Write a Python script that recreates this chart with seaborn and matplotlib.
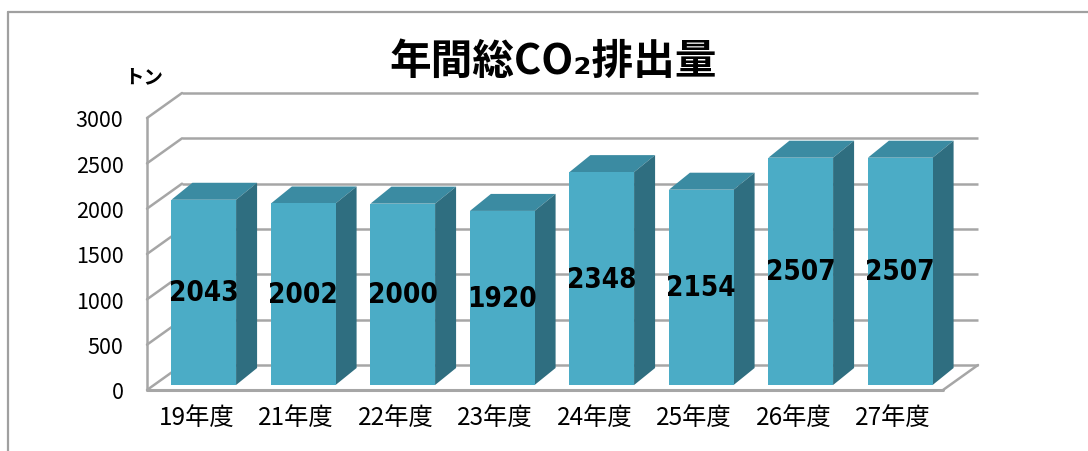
import numpy as np
import pandas as pd
import seaborn as sns
import matplotlib
matplotlib.use("Agg")
import matplotlib.pyplot as plt
from matplotlib.patches import Polygon
from matplotlib.lines import Line2D
from matplotlib import font_manager

# ---- data ----
categories = ["19年度", "21年度", "22年度", "23年度", "24年度", "25年度", "26年度", "27年度"]
values = [2043, 2002, 2000, 1920, 2348, 2154, 2507, 2507]
y_ticks = [0, 500, 1000, 1500, 2000, 2500, 3000]
title_text = "年間総CO₂排出量"
unit_text = "トン"

# ---- style ----
sns.set_theme(style="white")
plt.rcParams["font.family"] = ["Noto Sans CJK JP", "DejaVu Sans"]

installed = {f.name for f in font_manager.fontManager.ttflist}
if "Liberation Sans Narrow" in installed:
    value_font = dict(family=["Liberation Sans Narrow", "DejaVu Sans"], fontsize=24)
else:
    value_font = dict(family=["DejaVu Sans"], fontstretch="condensed", fontsize=20)

FRONT = "#4BACC6"
TOP = "#3B8BA2"
SIDE = "#2F6E80"
GRID = "#A6A6A6"

W, H = 1088, 452
fig = plt.figure(figsize=(W / 100, H / 100), dpi=100)
fig.patch.set_facecolor("white")
ax = fig.add_axes([147 / W, (H - 391) / H, 796 / W, 272 / H])

df = pd.DataFrame({"cat": categories, "val": values})
sns.barplot(data=df, x="cat", y="val", color=FRONT, width=0.65, saturation=1,
            errorbar=None, ax=ax, zorder=5)
ax.set_xlim(-0.5, len(categories) - 0.5)
ax.set_ylim(y_ticks[0], y_ticks[-1])
ax.set_facecolor("none")
ax.grid(False)
for s in ax.spines.values():
    s.set_visible(False)


def px2data(dx, dy):
    t = ax.transData
    o = t.transform((0, 0))
    p = t.inverted().transform(o + np.array([dx, dy]))
    return p[0], p[1]


wx, wy = px2data(35, 25)   # wall depth
sx, sy = px2data(7, 5)     # bar front set back from front plane
bx, by = px2data(21, 17)   # bar depth

x_lo, x_hi = ax.get_xlim()
lw = 1.8
# back wall gridlines and left wall diagonals
for v in y_ticks:
    ax.plot([x_lo + wx, x_hi + wx], [v + wy, v + wy], color=GRID, lw=lw,
            clip_on=False, zorder=1, solid_capstyle="butt")
    ax.plot([x_lo, x_lo + wx], [v, v + wy], color=GRID, lw=lw,
            clip_on=False, zorder=1)
# left wall front edge
ax.plot([x_lo, x_lo], [y_ticks[0], y_ticks[-1]], color=GRID, lw=lw, clip_on=False, zorder=1)
# floor front and right edges
ax.plot([x_lo, x_hi], [0, 0], color=GRID, lw=lw + 0.4, clip_on=False, zorder=2)
ax.plot([x_hi, x_hi + wx], [0, wy], color=GRID, lw=lw, clip_on=False, zorder=2)

# 3D bar faces
for p, v in zip(list(ax.patches), values):
    x0, w, h = p.get_x(), p.get_width(), p.get_height()
    p.set_x(x0 + sx)
    p.set_y(sy)
    p.set_linewidth(0)
    xl = x0 + sx
    xr = xl + w
    top = h + sy
    ax.add_patch(Polygon([(xl, top), (xr, top), (xr + bx, top + by), (xl + bx, top + by)],
                         closed=True, facecolor=TOP, edgecolor="none", zorder=4, clip_on=False))
    ax.add_patch(Polygon([(xr, sy), (xr + bx, sy + by), (xr + bx, top + by), (xr, top)],
                         closed=True, facecolor=SIDE, edgecolor="none", zorder=4, clip_on=False))
    ax.text(xl + w / 2, sy + h / 2, f"{v}", ha="center", va="center",
            fontweight="bold", color="black", zorder=6, **value_font)

ax.set_xlabel("")
ax.set_ylabel("")
ax.set_yticks(y_ticks)
ax.set_yticklabels([str(t) for t in y_ticks])
ax.tick_params(axis="y", length=0, pad=17, labelsize=15.5, labelcolor="black")
ax.tick_params(axis="x", length=0, pad=10, labelsize=17.5, labelcolor="black")

# title and unit
fig.text(553 / W, 1 - 62 / H, title_text, ha="center", va="center",
         fontsize=30, fontweight="bold", color="black")
fig.text(124 / W, 1 - 78 / H, unit_text, ha="left", va="center",
         fontsize=14, fontweight="bold", color="black")

# outer frame
fig.add_artist(Line2D([8 / W, 1], [1 - 13 / H] * 2, transform=fig.transFigure,
                      color="#A0A0A0", lw=1.6))
fig.add_artist(Line2D([8 / W] * 2, [0, 1 - 13 / H], transform=fig.transFigure,
                      color="#A0A0A0", lw=1.6))

fig.savefig("out.png", dpi=100)
